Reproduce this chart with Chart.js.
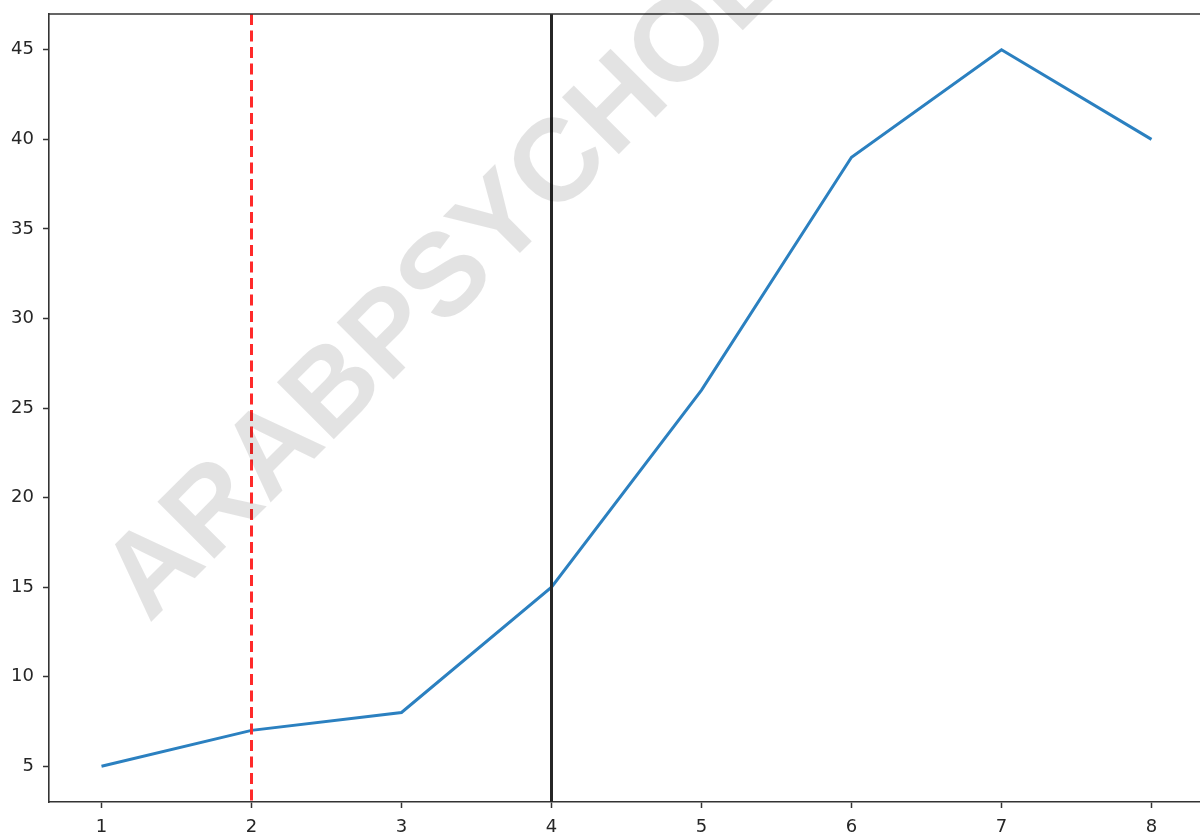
<!DOCTYPE html>
<html>
<head>
<meta charset="utf-8">
<script src="https://cdn.jsdelivr.net/npm/chart.js@4"></script>
<style>
  html,body{margin:0;padding:0;background:#fff;overflow:hidden;}
  #wrap{width:1204px;height:837px;}
</style>
</head>
<body>
<div id="wrap"><canvas id="chart" width="1204" height="837"></canvas></div>
<script>
// ---- Data ----
const xValues = [1, 2, 3, 4, 5, 6, 7, 8];
const yValues = [5, 7, 8, 15, 26, 39, 45, 40];
const xTicks = [1, 2, 3, 4, 5, 6, 7, 8];
const yTicks = [5, 10, 15, 20, 25, 30, 35, 40, 45];
const redLineX = 2;
const blackLineX = 4;
const watermark = 'ARABPSYCHOLOGY';

// ---- Plugins ----
const framePlugin = {
  id:'frame',
  afterDraw(chart){
    const {ctx, chartArea:a} = chart;
    ctx.save();
    ctx.strokeStyle = '#333';
    ctx.lineWidth = 1.6;
    ctx.beginPath();
    ctx.moveTo(a.left, a.top); ctx.lineTo(a.right, a.top); ctx.lineTo(a.right, a.bottom);
    ctx.stroke();
    ctx.restore();
  }
};

const vlinePlugin = {
  id:'vlines',
  afterDatasetsDraw(chart){
    const {ctx, chartArea:a, scales} = chart;
    ctx.save();
    ctx.lineWidth = 3;
    // red dashed
    let x = scales.x.getPixelForValue(redLineX);
    ctx.strokeStyle = '#ff2a2a';
    ctx.setLineDash([11,5.5]);
    ctx.beginPath(); ctx.moveTo(x, a.top); ctx.lineTo(x, a.bottom); ctx.stroke();
    // black solid
    x = scales.x.getPixelForValue(blackLineX);
    ctx.strokeStyle = '#262626';
    ctx.setLineDash([]);
    ctx.beginPath(); ctx.moveTo(x, a.top); ctx.lineTo(x, a.bottom); ctx.stroke();
    ctx.restore();
  }
};

const watermarkPlugin = {
  id:'watermark',
  afterDraw(chart){
    const ctx = chart.ctx;
    ctx.save();
    ctx.translate(149, 624);
    ctx.rotate(-Math.PI/4);
    ctx.font = 'bold 117px "Liberation Sans", Arial, sans-serif';
    ctx.fillStyle = 'rgba(0,0,0,0.11)';
    ctx.textAlign = 'left';
    ctx.textBaseline = 'alphabetic';
    ctx.fillText(watermark, 0, 0);
    ctx.restore();
  }
};

// ---- Chart ----
const tickFont = {family:'"DejaVu Sans", sans-serif', size:18};

new Chart(document.getElementById('chart').getContext('2d'), {
  type:'scatter',
  data:{
    datasets:[{
      data: xValues.map((x,i)=>({x:x, y:yValues[i]})),
      showLine:true,
      borderColor:'#2b80c0',
      borderWidth:3,
      pointRadius:0,
      tension:0,
      fill:false
    }]
  },
  options:{
    responsive:false,
    animation:false,
    layout:{padding:{top:14, right:0, left:0, bottom:0}},
    plugins:{legend:{display:false}, tooltip:{enabled:false}},
    scales:{
      x:{
        type:'linear',
        min:0.65, max:8.35,
        afterBuildTicks:s=>{ s.ticks = xTicks.map(v=>({value:v})); },
        afterFit:s=>{ s.height = 35; s.paddingLeft = 0; s.paddingRight = 0; },
        grid:{drawOnChartArea:false, drawTicks:true, tickLength:6, tickColor:'#333', tickWidth:1.5},
        border:{display:true, color:'#333', width:1.6},
        ticks:{color:'#262626', font:tickFont, padding:9, maxRotation:0, autoSkip:false}
      },
      y:{
        type:'linear',
        min:3, max:47,
        afterBuildTicks:s=>{ s.ticks = yTicks.map(v=>({value:v})); },
        afterFit:s=>{ s.width = 49; s.paddingTop = 0; s.paddingBottom = 0; },
        grid:{drawOnChartArea:false, drawTicks:true, tickLength:6, tickColor:'#333', tickWidth:1.5},
        border:{display:true, color:'#333', width:1.6},
        ticks:{color:'#262626', font:tickFont, padding:9, autoSkip:false}
      }
    }
  },
  plugins:[vlinePlugin, framePlugin, watermarkPlugin]
});
</script>
</body>
</html>
